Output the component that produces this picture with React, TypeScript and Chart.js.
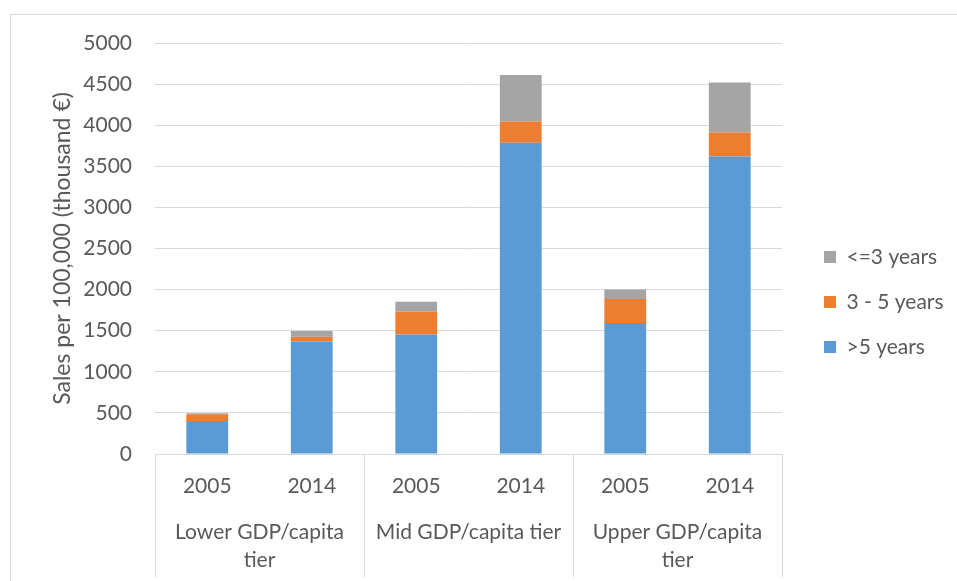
import React, { useEffect, useRef } from "react";
import { Chart, registerables } from "chart.js";

Chart.register(...registerables);

const years = ["2005", "2014", "2005", "2014", "2005", "2014"];
const tiers: (string | string[])[] = [
  ["Lower GDP/capita", "tier"],
  "Mid GDP/capita tier",
  ["Upper GDP/capita", "tier"],
];
const yearsPerTier = 2;
const over5Years = [400, 1370, 1455, 3785, 1595, 3620];
const from3to5Years = [85, 57, 280, 260, 290, 292];
const upTo3Years = [10, 70, 118, 565, 115, 608];
const yTicksMax = 5000;
const yTicksStep = 500;

const FONT = "Lato, 'Open Sans', sans-serif";
const FS = 21;
const TXT = "#595959";
const LINE = "#d9d9d9";

const framePlugin = {
  id: "frame",
  beforeDraw(chart: any) {
    const ctx = chart.ctx;
    ctx.save();
    ctx.strokeStyle = LINE;
    ctx.lineWidth = 1;
    ctx.strokeRect(10.5, 14.5, chart.width + 20, chart.height + 20);
    ctx.restore();
  },
  afterDraw(chart: any) {
    const x = chart.scales.x;
    const area = chart.chartArea;
    const ctx = chart.ctx;
    const n = years.length;
    const step = n > 1 ? x.getPixelForValue(1) - x.getPixelForValue(0) : 0;
    const bounds: number[] = [];
    for (let i = 0; i <= n; i += yearsPerTier) {
      bounds.push(x.getPixelForValue(i) - step / 2);
    }
    ctx.save();
    ctx.strokeStyle = LINE;
    ctx.lineWidth = 1;
    bounds.forEach((b) => {
      const px = Math.round(b) + 0.5;
      ctx.beginPath();
      ctx.moveTo(px, area.bottom);
      ctx.lineTo(px, chart.height - 4);
      ctx.stroke();
    });
    ctx.restore();
  },
};

export default function App() {
  const ref = useRef<HTMLCanvasElement | null>(null);
  useEffect(() => {
    if (!ref.current) return;
    const chart = new Chart(ref.current, {
      type: "bar",
      data: {
        labels: years,
        datasets: [
          { label: ">5 years", data: over5Years, backgroundColor: "#5b9bd5" },
          { label: "3 - 5 years", data: from3to5Years, backgroundColor: "#ed7d31" },
          { label: "<=3 years", data: upTo3Years, backgroundColor: "#a5a5a5" },
        ],
      },
      plugins: [framePlugin],
      options: {
        responsive: false,
        animation: false,
        datasets: { bar: { barPercentage: 0.4, categoryPercentage: 1 } },
        layout: { padding: { left: 45, top: 23, right: 6, bottom: 0 } },
        plugins: {
          title: {
            display: true,
            text: "",
            fullSize: false,
            font: { size: 10, lineHeight: 1 },
            padding: { top: 5, bottom: 5 },
          },
          legend: {
            position: "right",
            reverse: true,
            labels: {
              boxWidth: 12,
              boxHeight: 12,
              padding: 24,
              color: TXT,
              font: { family: FONT, size: FS },
            },
          },
          tooltip: { enabled: false },
        },
        scales: {
          x: {
            stacked: true,
            grid: { display: false, drawTicks: false },
            border: { display: true, color: LINE, width: 1 },
            ticks: {
              color: TXT,
              font: { family: FONT, size: FS },
              padding: 20,
              maxRotation: 0,
              autoSkip: false,
            },
            afterFit: (s: any) => {
              s.height = 45;
            },
          },
          x2: {
            type: "category",
            labels: tiers as any,
            position: "bottom",
            offset: true,
            weight: 1,
            grid: { display: false, drawTicks: false },
            border: { display: false },
            ticks: {
              color: TXT,
              font: { family: FONT, size: FS, lineHeight: 28 / FS },
              padding: 19,
              maxRotation: 0,
              autoSkip: false,
            },
            afterFit: (s: any) => {
              s.height = 82;
            },
          },
          y: {
            stacked: true,
            min: 0,
            max: yTicksMax,
            grid: { color: LINE, drawTicks: false, lineWidth: 1 },
            border: { display: false },
            ticks: {
              stepSize: yTicksStep,
              color: TXT,
              font: { family: FONT, size: FS },
              padding: 23,
              callback: (v: any) => String(v),
            },
            title: {
              display: true,
              text: "Sales per 100,000 (thousand €)",
              color: TXT,
              font: { family: FONT, size: 23 },
              padding: { top: 4, bottom: 4 },
            },
            afterFit: (s: any) => {
              s.width = 110;
            },
          },
          y2: {
            position: "right",
            display: true,
            grid: { display: false, drawTicks: false },
            border: { display: false },
            ticks: { display: false },
            afterFit: (s: any) => {
              s.width = 18;
            },
          },
        },
      } as any,
    });
    return () => chart.destroy();
  }, []);
  return (
    <div style={{ position: "absolute", left: 0, top: 0, width: 957, height: 581, background: "#fff" }}>
      <canvas ref={ref} width={957} height={581} />
    </div>
  );
}
